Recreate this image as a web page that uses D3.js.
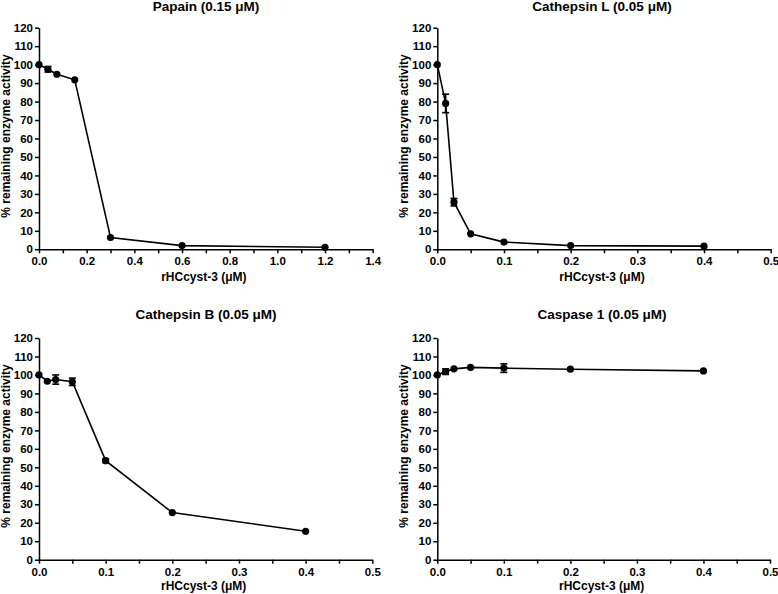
<!DOCTYPE html>
<html><head><meta charset="utf-8">
<script src="https://cdn.jsdelivr.net/npm/d3@7"></script>
<style>
body{margin:0;background:#fff;}
svg text{font-family:"Liberation Sans",Arial,sans-serif;font-weight:bold;fill:#000;}
</style></head>
<body><svg id="c" width="778" height="594"></svg>
<script>
// ---- data ----
const titles = ["Papain (0.15 μM)", "Cathepsin L (0.05 μM)", "Cathepsin B (0.05 μM)", "Caspase 1 (0.05 μM)"];
const xLabel = "rHCcyst-3 (μM)";
const yLabel = "% remaining enzyme activity";
const papainX = [0, 0.0375, 0.075, 0.15, 0.3, 0.6, 1.2];
const papainY = [100, 97.5, 94.8, 91.8, 6.4, 2.0, 1.1];
const papainErr = [0, 1.5, 0.5, 0.5, 0.5, 0.3, 0.3];
const catLX = [0, 0.0125, 0.025, 0.05, 0.1, 0.2, 0.4];
const catLY = [100, 79, 25.5, 8.4, 3.9, 2.0, 1.7];
const catLErr = [0, 5, 2, 0.5, 0.5, 0.3, 0.3];
const catBX = [0, 0.0125, 0.025, 0.05, 0.1, 0.2, 0.4];
const catBY = [100, 96.6, 97.5, 96.3, 53.6, 25.5, 15.4];
const catBErr = [0, 0.5, 2.5, 2, 1, 0.3, 0.3];
const casX = [0, 0.0125, 0.025, 0.05, 0.1, 0.2, 0.4];
const casY = [100, 101.8, 103.3, 104.1, 103.7, 103.1, 102.2];
const casErr = [0, 1.5, 0.5, 0.5, 2.3, 0.3, 0.3];
const yTicks = [0,10,20,30,40,50,60,70,80,90,100,110,120];
const xTicksPapain = [0,0.2,0.4,0.6,0.8,1.0,1.2,1.4];
const xMinorPapain = [0.1,0.3,0.5,0.7,0.9,1.1,1.3];
const xTicksOther = [0,0.1,0.2,0.3,0.4,0.5];
const xMinorOther = [0.05,0.15,0.25,0.35,0.45];

// ---- layout ----
const panels = [
  {title:titles[0], xs:papainX, ys:papainY, es:papainErr, xmax:1.4, ticks:xTicksPapain, minor:xMinorPapain,
   left:39, top:27.7, w:333.7, h:221.6, titleX:206, titleY:11, xlabY:281, ylabX:10, ylabY:136},
  {title:titles[1], xs:catLX, ys:catLY, es:catLErr, xmax:0.5, ticks:xTicksOther, minor:xMinorOther,
   left:437.3, top:27.7, w:333.4, h:221.6, titleX:602, titleY:11, xlabY:281, ylabX:408, ylabY:136},
  {title:titles[2], xs:catBX, ys:catBY, es:catBErr, xmax:0.5, ticks:xTicksOther, minor:xMinorOther,
   left:39, top:338, w:333.3, h:221.7, titleX:206, titleY:319, xlabY:590, ylabX:10, ylabY:446},
  {title:titles[3], xs:casX, ys:casY, es:casErr, xmax:0.5, ticks:xTicksOther, minor:xMinorOther,
   left:437.3, top:338, w:332.7, h:221.7, titleX:602, titleY:319, xlabY:590, ylabX:408, ylabY:446}
];

const svg = d3.select("#c");
panels.forEach(p => {
  const x = d3.scaleLinear().domain([0, p.xmax]).range([p.left, p.left + p.w]);
  const y = d3.scaleLinear().domain([0, 120]).range([p.top + p.h, p.top]);
  const g = svg.append("g");

  // x axis
  g.append("g").attr("transform", `translate(0,${p.top + p.h})`)
    .call(d3.axisBottom(x).tickValues(p.ticks).tickFormat(d3.format(".1f")).tickSize(4).tickPadding(4).tickSizeOuter(0));
  g.append("g").attr("transform", `translate(0,${p.top + p.h})`)
    .call(d3.axisBottom(x).tickValues(p.minor).tickFormat("").tickSize(4).tickSizeOuter(0))
    .select(".domain").remove();
  // y axis
  g.append("g").attr("transform", `translate(${p.left},0)`)
    .call(d3.axisLeft(y).tickValues(yTicks).tickSize(4).tickPadding(2).tickSizeOuter(0));
  g.selectAll(".domain, .tick line").attr("stroke", "#000").attr("stroke-width", 1.5);
  g.selectAll(".tick text").attr("font-size", 11.5).attr("font-family", "Liberation Sans, Arial, sans-serif").attr("font-weight", "bold");

  // titles
  g.append("text").attr("x", p.titleX).attr("y", p.titleY).attr("text-anchor", "middle")
    .attr("font-size", 13.5).text(p.title);
  g.append("text").attr("x", p.left + p.w / 2 - 2).attr("y", p.xlabY).attr("text-anchor", "middle")
    .attr("font-size", 12).text(xLabel);
  g.append("text").attr("transform", `translate(${p.ylabX},${p.ylabY}) rotate(-90)`).attr("text-anchor", "middle")
    .attr("font-size", 12).text(yLabel);

  const pts = p.xs.map((v, i) => ({x: v, y: p.ys[i], e: p.es[i]}));
  // line
  g.append("path").datum(pts)
    .attr("d", d3.line().x(d => x(d.x)).y(d => y(d.y)))
    .attr("fill", "none").attr("stroke", "#000").attr("stroke-width", 1.6);
  // error bars
  const eb = g.selectAll(".eb").data(pts.filter(d => d.e >= 1)).enter().append("g");
  eb.append("line").attr("x1", d => x(d.x)).attr("x2", d => x(d.x))
    .attr("y1", d => y(d.y - d.e)).attr("y2", d => y(d.y + d.e)).attr("stroke", "#000").attr("stroke-width", 1.6);
  eb.append("line").attr("x1", d => x(d.x) - 3.5).attr("x2", d => x(d.x) + 3.5)
    .attr("y1", d => y(d.y + d.e)).attr("y2", d => y(d.y + d.e)).attr("stroke", "#000").attr("stroke-width", 1.6);
  eb.append("line").attr("x1", d => x(d.x) - 3.5).attr("x2", d => x(d.x) + 3.5)
    .attr("y1", d => y(d.y - d.e)).attr("y2", d => y(d.y - d.e)).attr("stroke", "#000").attr("stroke-width", 1.6);
  // markers
  g.selectAll(".pt").data(pts).enter().append("circle")
    .attr("cx", d => x(d.x)).attr("cy", d => y(d.y)).attr("r", 3.6).attr("fill", "#000");
});
</script></body></html>
